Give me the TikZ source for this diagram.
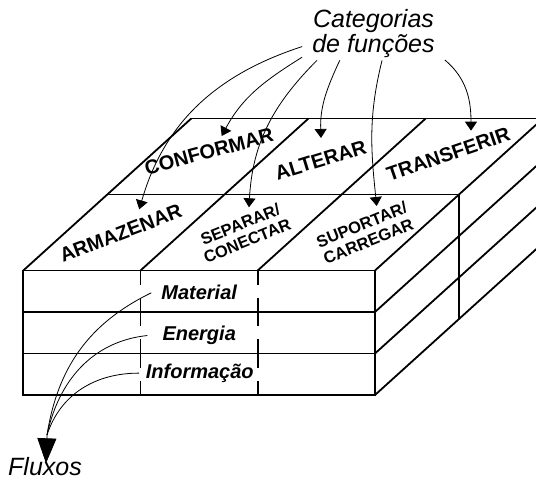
\documentclass[tikz,border=0pt]{standalone}
\usepackage{fontspec}
\setmainfont{Liberation Sans}
\usetikzlibrary{arrows.meta,positioning}

\begin{document}
\begin{tikzpicture}[x=1pt, y=1pt,
  box/.style={line width=1.8pt},
  cutline/.style={box, dash pattern=on 28.5pt off 13pt, dash phase=14.5pt},
  func/.style={font=\bfseries\fontsize{20}{20}\selectfont, inner sep=0pt},
  pair/.style={font=\bfseries\fontsize{16.5}{18}\selectfont, align=center, inner sep=0pt},
  flow/.style={font=\bfseries\itshape\fontsize{20}{20}\selectfont, inner sep=0pt, anchor=base},
  note/.style={font=\itshape\fontsize{25}{25}\selectfont},
  pointer/.style={line width=0.8pt, -{Triangle[width=12pt,length=9pt]}},
  stream/.style={line width=0.8pt}]
  \useasboundingbox (0,0) rectangle (536,481);
  % front face
  \draw[box] (23.3,86) rectangle (375,210.5);
  \foreach \y in {127.5,169} \draw[box] (23.3,\y) -- (375,\y);
  \foreach \x in {140.5,257.7} \draw[cutline] (\x,86) -- (\x,210.5);
  % top face
  \foreach \x in {23.3,140.5,257.7,375} \draw[box] (\x,210.5) -- ++(168,152);
  \draw[box] (107.3,286.5) -- (459,286.5);
  \draw[box] (191.3,362.5) -- (543,362.5);
  % right face
  \foreach \y in {86,127.5,169} \draw[box] (375,\y) -- ++(168,152);
  \draw[box] (459,162) -- (459,286.5);

  \node[func, rotate=21] (armazenar) at (120.7,247.7) {ARMAZENAR};
  \node[pair, rotate=22] (separar) at (243.7,248.5) {SEPARAR/\\CONECTAR};
  \node[pair, rotate=22] (suportar) at (365,248) {SUPORTAR/\\CARREGAR};
  \node[func, rotate=15] (conformar) at (209,329.3) {CONFORMAR};
  \node[func, rotate=17] (alterar) at (320.7,321) {ALTERAR};
  \node[func, rotate=19] (transferir) at (448.3,327) {TRANSFERIR};

  \node[flow] (material) at (199.2,181) {Material};
  \node[flow] (energia) at (199.2,140.3) {Energia};
  \node[flow] (informacao) at (199.8,102.7) {Informação};

  \node[note, align=center, inner xsep=10pt, inner ysep=2pt] (categorias) at (373.5,447) {Categorias\\de funções};
  \node[note, anchor=base, inner sep=0pt] (fluxos) at (45,5) {Fluxos};

  \coordinate (tipArm) at (139.3,271.7);
  \coordinate (tipConf) at (221.7,345);
  \coordinate (tipSep) at (249,273.7);
  \coordinate (tipAlt) at (321,343);
  \coordinate (tipSup) at (376.7,275);
  \coordinate (tipTra) at (471,350.3);
  \coordinate (join) at (47,46);
  \coordinate (tipFlux) at (46,17.7);

  \path[pointer]
    (categorias.190) edge[out=198, in=74] (tipArm)
    (categorias.198) edge[out=212, in=62] (tipConf)
    (categorias.205) edge[out=225, in=87] (tipSep)
    (categorias.218) edge[out=245, in=92] (tipAlt)
    (categorias.288) edge[out=256, in=96] (tipSup)
    (categorias.340) edge[out=-40, in=90] (tipTra);

  \path[stream]
    ([xshift=-10pt]material.west) edge[out=206, in=81] (join)
    ([xshift=-15pt]energia.west) edge[out=186, in=78] (join)
    ([xshift=-6.7pt]informacao.west) edge[out=180, in=72] (join);
  \draw[stream, -{Triangle[width=19pt,length=25pt]}] (join) -- (tipFlux);
\end{tikzpicture}
\end{document}
